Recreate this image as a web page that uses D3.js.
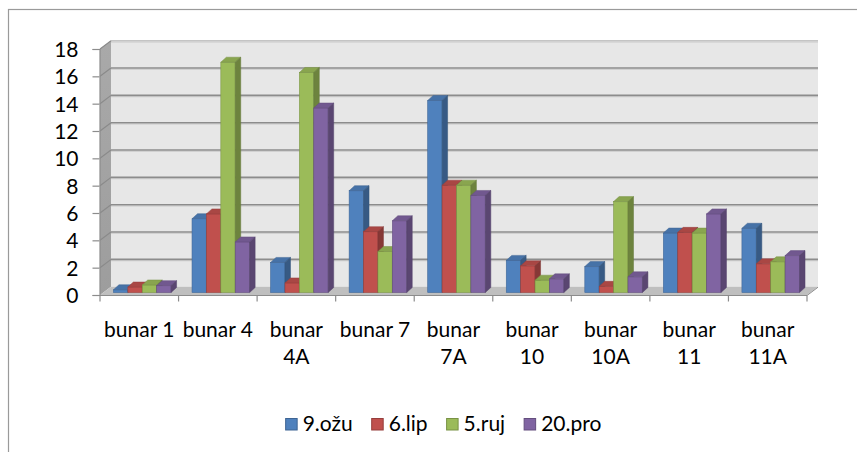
<!DOCTYPE html>
<html>
<head>
<meta charset="utf-8">
<script src="https://cdn.jsdelivr.net/npm/d3@7"></script>
<style>
  html, body { margin: 0; padding: 0; background: #fff; }
  svg { display: block; }
  text { font-family: Lato, "Open Sans", sans-serif; fill: #000; }
</style>
</head>
<body>
<svg id="chart" width="857" height="452"></svg>
<script>
// Wells (x categories) and measurement dates (series)
const categories = ["bunar 1", "bunar 4", "bunar 4A", "bunar 7", "bunar 7A", "bunar 10", "bunar 10A", "bunar 11", "bunar 11A"];
const seriesNames = ["9.ožu", "6.lip", "5.ruj", "20.pro"];
const ozu = [0.2, 5.4, 2.2, 7.45, 14.05, 2.35, 1.9, 4.35, 4.7];
const lip = [0.4, 5.75, 0.7, 4.45, 7.85, 1.95, 0.45, 4.4, 2.1];
const ruj = [0.55, 16.85, 16.1, 3.0, 7.85, 0.9, 6.65, 4.35, 2.25];
const pro = [0.5, 3.7, 13.5, 5.25, 7.1, 1.0, 1.15, 5.75, 2.7];
const yTicks = [0, 2, 4, 6, 8, 10, 12, 14, 16, 18];
const seriesColors = ["#4F81BD", "#C0504D", "#9BBB59", "#8064A2"];

const seriesValues = [ozu, lip, ruj, pro];
const fontSize = 21;

const svg = d3.select("#chart");

// chart frame
svg.append("rect")
  .attr("x", 8.5).attr("y", 9.5)
  .attr("width", 900).attr("height", 500)
  .attr("fill", "#fff").attr("stroke", "#9a9a9a").attr("stroke-width", 1.2);

// scales (front plane)
const x = d3.scaleBand().domain(categories).range([100, 807]).padding(0);
const y = d3.scaleLinear().domain([0, 18]).range([295, 49]);

// oblique depth of the plot box and of the bars
const wallDx = 11, wallDy = -8.3;
const barShiftX = 3, barShiftY = -2.5;
const barDx = 5.5, barDy = -5;

const xLeft = x.range()[0], xRight = x.range()[1];
const pt = (a, b) => a + "," + b;

// back wall
svg.append("polygon")
  .attr("points", [
    pt(xLeft + wallDx, y(18) + wallDy), pt(xRight + wallDx, y(18) + wallDy),
    pt(xRight + wallDx, y(0) + wallDy), pt(xLeft + wallDx, y(0) + wallDy)
  ].join(" "))
  .attr("fill", "#e7e7e7");

// side wall
const sideGrad = svg.append("defs").append("linearGradient")
  .attr("id", "sideGrad").attr("x1", 0).attr("y1", 0).attr("x2", 0).attr("y2", 1);
sideGrad.append("stop").attr("offset", "0%").attr("stop-color", "#a9a9a9");
sideGrad.append("stop").attr("offset", "100%").attr("stop-color", "#9d9d9d");
svg.append("polygon")
  .attr("points", [
    pt(xLeft, y(18)), pt(xLeft + wallDx, y(18) + wallDy),
    pt(xLeft + wallDx, y(0) + wallDy), pt(xLeft, y(0))
  ].join(" "))
  .attr("fill", "url(#sideGrad)");

// gridlines on the back wall and the side wall
const grid = svg.append("g");
yTicks.filter(v => v > 0).forEach(v => {
  const yb = y(v) + wallDy;
  grid.append("line")
    .attr("x1", xLeft + wallDx).attr("x2", xRight + wallDx)
    .attr("y1", yb + 1.4).attr("y2", yb + 1.4)
    .attr("stroke", "#cfcfcf").attr("stroke-width", 1);
  grid.append("line")
    .attr("x1", xLeft + wallDx).attr("x2", xRight + wallDx)
    .attr("y1", yb).attr("y2", yb)
    .attr("stroke", v === 18 ? "#c4c4c4" : "#8c8c8c").attr("stroke-width", 1.6);
  grid.append("line")
    .attr("x1", xLeft).attr("y1", y(v))
    .attr("x2", xLeft + wallDx).attr("y2", yb)
    .attr("stroke", "#8a8a8a").attr("stroke-width", 1.2);
});

// floor
svg.append("polygon")
  .attr("points", [
    pt(xLeft, y(0)), pt(xRight, y(0)),
    pt(xRight + wallDx, y(0) + wallDy), pt(xLeft + wallDx, y(0) + wallDy)
  ].join(" "))
  .attr("fill", "#bfbfbf");

// bars
const groupW = 57.6;
const xs = d3.scaleBand().domain(seriesNames)
  .range([(x.bandwidth() - groupW) / 2, (x.bandwidth() + groupW) / 2]).padding(0);

const bars = svg.append("g");
categories.forEach((c, ci) => {
  seriesNames.forEach((s, si) => {
    const v = seriesValues[si][ci];
    const col = d3.color(seriesColors[si]);
    const x0 = x(c) + xs(s) + barShiftX;
    const x1 = x0 + xs.bandwidth();
    const yb = y(0) + barShiftY;
    const yt = y(v) + barShiftY;
    const g = bars.append("g");
    g.append("rect")
      .attr("x", x0).attr("y", yt)
      .attr("width", x1 - x0).attr("height", yb - yt)
      .attr("fill", col.formatHex())
      .attr("stroke", col.darker(0.6).formatHex()).attr("stroke-width", 0.6);
    g.append("polygon")
      .attr("points", [pt(x0, yt), pt(x1, yt), pt(x1 + barDx, yt + barDy), pt(x0 + barDx, yt + barDy)].join(" "))
      .attr("fill", col.darker(0.35).formatHex())
      .attr("stroke", col.darker(0.7).formatHex()).attr("stroke-width", 0.5);
    g.append("polygon")
      .attr("points", [pt(x1, yt), pt(x1 + barDx, yt + barDy), pt(x1 + barDx, yb + barDy), pt(x1, yb)].join(" "))
      .attr("fill", col.darker(1.0).formatHex())
      .attr("stroke", col.darker(1.2).formatHex()).attr("stroke-width", 0.5);
  });
});

// floor front edge and right edge
svg.append("polyline")
  .attr("points", [pt(xLeft, y(0) + 0.5), pt(xRight, y(0) + 0.5), pt(xRight + wallDx, y(0) + wallDy + 0.5)].join(" "))
  .attr("fill", "none").attr("stroke", "#8c8c8c").attr("stroke-width", 1);

// y axis
const yAxis = d3.axisLeft(y).tickValues(yTicks).tickSize(7).tickPadding(14);
svg.append("g")
  .attr("transform", "translate(" + (xLeft - 0.5) + ",0)")
  .call(yAxis)
  .call(g => g.select(".domain").attr("stroke", "#8c8c8c").attr("stroke-width", 1.2))
  .call(g => g.selectAll(".tick line").attr("stroke", "#8c8c8c").attr("stroke-width", 1.2))
  .call(g => g.selectAll(".tick text")
    .attr("font-family", "Lato, sans-serif").attr("font-size", fontSize)
    .attr("fill", "#000").attr("dy", "0.36em"));

// x axis: ticks on category boundaries
const bounds = categories.map(c => x(c)).concat([xRight]);
svg.append("g").selectAll("line").data(bounds).join("line")
  .attr("x1", d => d).attr("x2", d => d)
  .attr("y1", y(0) + 0.5).attr("y2", y(0) + 6.5)
  .attr("stroke", "#8c8c8c").attr("stroke-width", 1.2);

// x axis labels, wrapped to two lines when wider than one band
const xAxis = d3.axisBottom(x).tickSize(0).tickPadding(0);
const xg = svg.append("g")
  .attr("transform", "translate(0," + y(0) + ")")
  .call(xAxis);
xg.select(".domain").remove();
xg.selectAll(".tick text")
  .attr("font-family", "Lato, sans-serif").attr("font-size", fontSize).attr("fill", "#000")
  .attr("dy", null).attr("y", 42)
  .each(function(d) {
    const t = d3.select(this);
    const words = d.length > 7 ? d.split(" ") : [d];
    t.text(null);
    words.forEach((w, i) => {
      t.append("tspan").attr("x", 0).attr("dy", i === 0 ? 0 : 27).text(w);
    });
  });

// legend
const legend = svg.append("g");
const items = legend.selectAll("g").data(seriesNames).join("g");
items.append("rect")
  .attr("width", 11.5).attr("height", 11.5).attr("y", -11.5)
  .attr("fill", (d, i) => seriesColors[i])
  .attr("stroke", (d, i) => d3.color(seriesColors[i]).darker(0.7).formatHex())
  .attr("stroke-width", 1);
items.append("text")
  .attr("x", 17).attr("y", 0.5)
  .attr("font-size", fontSize)
  .text(d => d);
let cursor = 0;
const offsets = [];
items.each(function() {
  const w = 17 + d3.select(this).select("text").node().getComputedTextLength();
  offsets.push(cursor);
  cursor += w + 19;
});
const total = cursor - 19;
const legendLeft = 443.5 - total / 2;
items.attr("transform", (d, i) => "translate(" + (legendLeft + offsets[i]) + ",430)");
</script>
</body>
</html>
